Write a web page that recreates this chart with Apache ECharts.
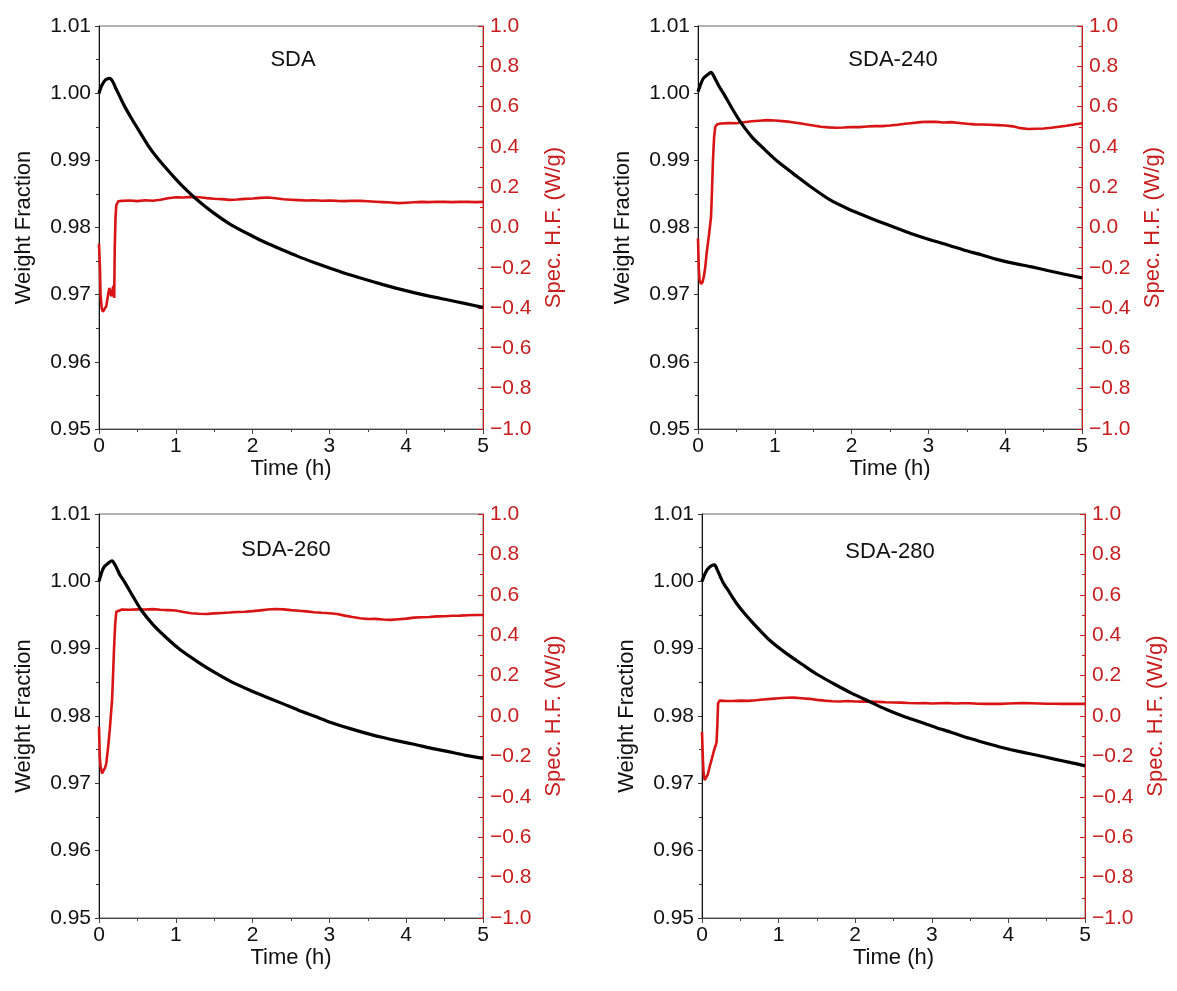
<!DOCTYPE html>
<html>
<head>
<meta charset="utf-8">
<script src="https://cdn.jsdelivr.net/npm/echarts@6/dist/echarts.min.js"></script>
<style>
html,body{margin:0;padding:0;background:#fff;}
#chart{width:1177px;height:991px;}
</style>
</head>
<body>
<div id="chart"></div>
<script>
// ---------- Data (time in h) ----------
const panelTitles = ['SDA', 'SDA-240', 'SDA-260', 'SDA-280'];
const xTicks = [0, 1, 2, 3, 4, 5];

// Weight fraction curves [time, weight fraction]
const sdaWeight = [[0,1.0000],[0.03,1.0010],[0.07,1.0018],[0.1,1.0021],[0.14,1.0022],[0.18,1.0017],[0.22,1.0007],[0.25,1.0000],[0.3,0.9988],[0.35,0.9977],[0.42,0.9963],[0.5,0.9948],[0.64,0.9922],[0.75,0.9905],[0.86,0.9890],[1.0,0.9872],[1.1,0.9860],[1.25,0.9844],[1.5,0.9821],[1.72,0.9804],[2.0,0.9787],[2.16,0.9778],[2.4,0.9766],[2.59,0.9757],[2.8,0.9748],[3.02,0.9739],[3.2,0.9732],[3.46,0.9723],[3.7,0.9715],[3.89,0.9709],[4.1,0.9703],[4.33,0.9697],[4.55,0.9692],[4.76,0.9687],[5.0,0.9681]];
const sda240Weight = [[0,1.0002],[0.04,1.0015],[0.07,1.0022],[0.12,1.0027],[0.17,1.0031],[0.22,1.0022],[0.27,1.0011],[0.33,1.0000],[0.44,0.9978],[0.55,0.99575],[0.7,0.9935],[0.86,0.9917],[1.05,0.9897],[1.29,0.9876],[1.5,0.9858],[1.72,0.9841],[1.95,0.9828],[2.16,0.9818],[2.4,0.9807],[2.59,0.9799],[2.8,0.9790],[3.03,0.97814],[3.25,0.9774],[3.46,0.97665],[3.7,0.9759],[3.89,0.97526],[4.1,0.9747],[4.33,0.97417],[4.55,0.9736],[4.76,0.97308],[5.0,0.9725]];
const sda260Weight = [[0,1.0000],[0.04,1.0015],[0.07,1.0022],[0.12,1.0027],[0.17,1.00306],[0.22,1.0022],[0.27,1.0010],[0.33,0.99995],[0.44,0.9978],[0.55,0.99574],[0.7,0.9936],[0.86,0.9918],[1.05,0.9899],[1.29,0.9880],[1.5,0.9865],[1.72,0.9851],[1.95,0.9839],[2.16,0.9829],[2.4,0.9818],[2.59,0.9809],[2.8,0.9800],[3.03,0.9790],[3.25,0.9782],[3.46,0.9775],[3.7,0.9768],[3.89,0.9763],[4.1,0.9758],[4.33,0.9752],[4.55,0.9747],[4.76,0.9742],[5.0,0.9737]];
const sda280Weight = [[0,1.0000],[0.02,1.0006],[0.05,1.0014],[0.08,1.0019],[0.12,1.0023],[0.165,1.00243],[0.2,1.0017],[0.27,0.99995],[0.35,0.9985],[0.45,0.99674],[0.55,0.9953],[0.67,0.99377],[0.88,0.99129],[1.1,0.9893],[1.32,0.98757],[1.5,0.9862],[1.75,0.9846],[1.95,0.9834],[2.19,0.98212],[2.4,0.9810],[2.62,0.9800],[2.85,0.9791],[3.06,0.97826],[3.25,0.9776],[3.49,0.97669],[3.7,0.9760],[3.93,0.97529],[4.15,0.9747],[4.36,0.97421],[4.6,0.9736],[4.8,0.97312],[5.0,0.9726]];

// Specific heat flow curves [time, W/g]
const sdaHeatFlow = [[0,-0.08],[0.012,-0.2],[0.02,-0.33],[0.035,-0.40],[0.05,-0.418],[0.07,-0.41],[0.095,-0.39],[0.12,-0.33],[0.135,-0.30],[0.15,-0.33],[0.165,-0.34],[0.18,-0.30],[0.19,-0.29],[0.198,-0.35],[0.205,-0.10],[0.215,0.05],[0.225,0.11],[0.25,0.13],[0.3,0.132],[0.4,0.134],[0.5,0.131],[0.6,0.135],[0.7,0.133],[0.8,0.138],[0.9,0.145],[1.0,0.150],[1.1,0.149],[1.2,0.152],[1.3,0.150],[1.4,0.146],[1.5,0.143],[1.6,0.141],[1.7,0.137],[1.8,0.139],[1.9,0.142],[2.0,0.144],[2.1,0.147],[2.2,0.149],[2.3,0.145],[2.4,0.140],[2.5,0.138],[2.6,0.136],[2.7,0.134],[2.8,0.135],[2.9,0.133],[3.0,0.134],[3.1,0.132],[3.2,0.131],[3.3,0.133],[3.4,0.132],[3.5,0.130],[3.6,0.128],[3.7,0.126],[3.8,0.124],[3.9,0.121],[4.0,0.123],[4.1,0.125],[4.2,0.127],[4.3,0.126],[4.4,0.128],[4.5,0.127],[4.6,0.126],[4.7,0.127],[4.8,0.127],[4.9,0.126],[5.0,0.127]];
const sda240HeatFlow = [[0,-0.054],[0.01,-0.2],[0.02,-0.26],[0.04,-0.28],[0.06,-0.27],[0.08,-0.235],[0.095,-0.195],[0.115,-0.12],[0.14,-0.046],[0.16,0.02],[0.17,0.054],[0.18,0.16],[0.195,0.335],[0.21,0.45],[0.225,0.50],[0.25,0.512],[0.3,0.516],[0.4,0.518],[0.5,0.517],[0.6,0.522],[0.7,0.527],[0.8,0.530],[0.9,0.533],[1.0,0.531],[1.1,0.528],[1.2,0.524],[1.3,0.519],[1.4,0.512],[1.5,0.506],[1.6,0.500],[1.7,0.497],[1.8,0.495],[1.9,0.496],[2.0,0.499],[2.1,0.498],[2.2,0.501],[2.3,0.503],[2.4,0.503],[2.5,0.506],[2.6,0.510],[2.7,0.515],[2.8,0.519],[2.9,0.523],[3.0,0.525],[3.1,0.524],[3.2,0.521],[3.3,0.523],[3.4,0.519],[3.5,0.515],[3.6,0.512],[3.7,0.511],[3.8,0.510],[3.9,0.508],[4.0,0.506],[4.1,0.502],[4.2,0.493],[4.3,0.489],[4.4,0.490],[4.5,0.491],[4.6,0.495],[4.7,0.500],[4.8,0.505],[4.9,0.511],[5.0,0.517]];
const sda260HeatFlow = [[0,-0.053],[0.01,-0.2],[0.02,-0.25],[0.04,-0.284],[0.06,-0.275],[0.08,-0.255],[0.095,-0.234],[0.12,-0.15],[0.14,-0.069],[0.17,0.079],[0.18,0.17],[0.195,0.327],[0.21,0.45],[0.225,0.516],[0.25,0.525],[0.3,0.527],[0.4,0.526],[0.5,0.528],[0.6,0.527],[0.7,0.529],[0.8,0.526],[0.9,0.524],[1.0,0.522],[1.1,0.515],[1.2,0.509],[1.3,0.506],[1.4,0.505],[1.5,0.508],[1.6,0.510],[1.7,0.512],[1.8,0.515],[1.9,0.516],[2.0,0.519],[2.1,0.523],[2.2,0.527],[2.3,0.530],[2.4,0.528],[2.5,0.524],[2.6,0.521],[2.7,0.518],[2.8,0.514],[2.9,0.511],[3.0,0.509],[3.1,0.505],[3.2,0.497],[3.3,0.490],[3.4,0.484],[3.5,0.480],[3.6,0.481],[3.7,0.478],[3.8,0.476],[3.9,0.479],[4.0,0.482],[4.1,0.487],[4.2,0.489],[4.3,0.490],[4.4,0.493],[4.5,0.494],[4.6,0.496],[4.7,0.497],[4.8,0.499],[4.9,0.500],[5.0,0.500]];
const sda280HeatFlow = [[0,-0.078],[0.01,-0.2],[0.02,-0.28],[0.035,-0.317],[0.05,-0.31],[0.075,-0.29],[0.10,-0.251],[0.13,-0.21],[0.15,-0.18],[0.165,-0.16],[0.175,-0.15],[0.19,-0.13],[0.2,-0.05],[0.21,0.063],[0.23,0.076],[0.3,0.075],[0.4,0.074],[0.5,0.076],[0.6,0.075],[0.7,0.078],[0.8,0.082],[0.9,0.085],[1.0,0.088],[1.1,0.090],[1.2,0.091],[1.3,0.088],[1.4,0.085],[1.5,0.080],[1.6,0.076],[1.7,0.073],[1.8,0.072],[1.9,0.074],[2.0,0.072],[2.1,0.071],[2.2,0.072],[2.3,0.070],[2.4,0.068],[2.5,0.067],[2.6,0.066],[2.7,0.064],[2.8,0.063],[2.9,0.064],[3.0,0.062],[3.1,0.063],[3.2,0.064],[3.3,0.062],[3.4,0.063],[3.5,0.063],[3.6,0.061],[3.7,0.060],[3.8,0.061],[3.9,0.060],[4.0,0.062],[4.1,0.063],[4.2,0.064],[4.3,0.063],[4.4,0.062],[4.5,0.061],[4.6,0.061],[4.7,0.060],[4.8,0.060],[4.9,0.060],[5.0,0.060]];

const weightSets = [sdaWeight, sda240Weight, sda260Weight, sda280Weight];
const heatSets = [sdaHeatFlow, sda240HeatFlow, sda260HeatFlow, sda280HeatFlow];

// ---------- Layout / style ----------
const FONT = 'Liberation Sans, Arial, sans-serif';
const RED = '#d81414';
const RED_TEXT = '#c81e1e';
const grids = [
  {left: 99, top: 26, width: 384, height: 403},
  {left: 698, top: 26, width: 384, height: 403},
  {left: 99, top: 514, width: 384, height: 404},
  {left: 702, top: 514, width: 383, height: 404}
];
const titlePos = [[293, 60], [893, 60], [286, 550], [890, 552]];

const option = {
  backgroundColor: '#fff',
  animation: false,
  grid: grids.map(g => Object.assign({show: true, borderColor: '#666', borderWidth: 1, backgroundColor: 'transparent'}, g)),
  xAxis: [], yAxis: [], series: [],
  graphic: []
};

function fmtRight(v) {
  if (Math.abs(v) < 1e-9) return '0.0';
  const s = v.toFixed(1);
  return s.replace('-', '\u2212');
}

for (let i = 0; i < 4; i++) {
  option.xAxis.push({
    gridIndex: i, type: 'value', min: xTicks[0], max: xTicks[xTicks.length - 1], interval: 1,
    name: 'Time (h)', nameLocation: 'middle', nameGap: 28,
    nameTextStyle: {fontFamily: FONT, fontSize: 22, color: '#111'},
    axisLine: {show: true, onZero: false, lineStyle: {color: '#444', width: 1}},
    axisTick: {show: true, inside: false, length: 5, lineStyle: {color: '#444'}},
    minorTick: {show: true, splitNumber: 2, length: 3, lineStyle: {color: '#444'}},
    splitLine: {show: false},
    axisLabel: {fontFamily: FONT, fontSize: 21, color: '#111', margin: 7, formatter: v => String(v)}
  });
  option.yAxis.push({
    gridIndex: i, type: 'value', position: 'left', min: 0.95, max: 1.01, interval: 0.01,
    name: 'Weight Fraction', nameLocation: 'middle', nameGap: 64, nameRotate: 90,
    nameTextStyle: {fontFamily: FONT, fontSize: 22, color: '#111'},
    axisLine: {show: true, onZero: false, lineStyle: {color: '#111', width: 1}},
    axisTick: {show: true, inside: false, length: 4, lineStyle: {color: '#333'}},
    minorTick: {show: true, splitNumber: 2, length: 3, lineStyle: {color: '#333'}},
    splitLine: {show: false},
    axisLabel: {fontFamily: FONT, fontSize: 21, color: '#111', margin: 8, formatter: v => v.toFixed(2)}
  });
  option.yAxis.push({
    gridIndex: i, type: 'value', position: 'right', min: -1, max: 1, interval: 0.2,
    name: 'Spec. H.F. (W/g)', nameLocation: 'middle', nameGap: 60, nameRotate: 90,
    nameTextStyle: {fontFamily: FONT, fontSize: 22, color: RED_TEXT},
    axisLine: {show: true, onZero: false, lineStyle: {color: RED, width: 1}},
    axisTick: {show: true, inside: true, length: 5, lineStyle: {color: RED}},
    minorTick: {show: true, splitNumber: 2, length: 3, lineStyle: {color: RED}},
    splitLine: {show: false},
    axisLabel: {fontFamily: FONT, fontSize: 21, color: RED_TEXT, margin: 7, formatter: fmtRight}
  });
  option.series.push({
    type: 'line', xAxisIndex: i, yAxisIndex: 2 * i + 1, data: heatSets[i],
    showSymbol: false, symbol: 'none', lineStyle: {color: RED, width: 2.6}, z: 2
  });
  option.series.push({
    type: 'line', xAxisIndex: i, yAxisIndex: 2 * i, data: weightSets[i],
    showSymbol: false, symbol: 'none', smooth: 0.25, lineStyle: {color: '#000', width: 3.2}, z: 3
  });
  option.graphic.push({
    type: 'text', x: titlePos[i][0], y: titlePos[i][1],
    style: {text: panelTitles[i], fontFamily: FONT, fontSize: 22, fill: '#111', textAlign: 'center', textVerticalAlign: 'middle'}
  });
}

const chart = echarts.init(document.getElementById('chart'), null, {renderer: 'canvas'});
chart.setOption(option);
</script>
</body>
</html>
